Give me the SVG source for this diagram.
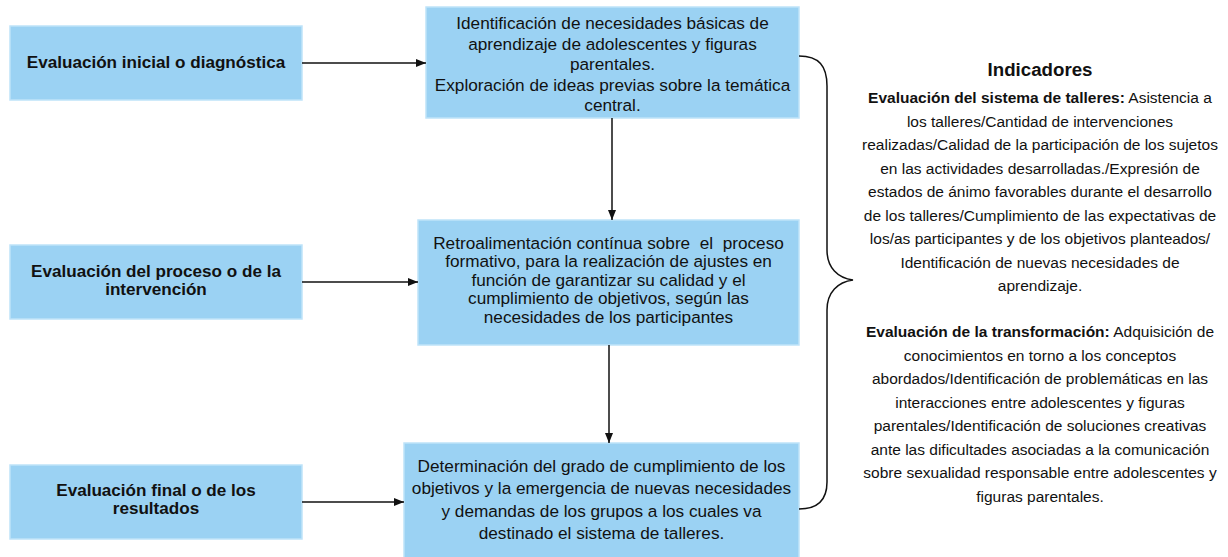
<svg xmlns="http://www.w3.org/2000/svg" width="1228" height="557" viewBox="0 0 1228 557">
<style>
.box{fill:#9bd2f3;stroke:#bfe3f9;stroke-width:1.5}
.lt{font-family:"Liberation Sans",Arial,sans-serif;font-size:17.1px;font-weight:bold;fill:#111;text-anchor:middle}
.ct{font-family:"Liberation Sans",Arial,sans-serif;font-size:17.2px;fill:#111;text-anchor:middle}
.rt{font-family:"Liberation Sans",Arial,sans-serif;font-size:15.5px;fill:#111;text-anchor:middle}
.con{fill:none;stroke:#111;stroke-width:1.5}
</style>
<defs>
<marker id="ah" markerWidth="10" markerHeight="8" refX="10" refY="4" orient="auto" markerUnits="userSpaceOnUse">
<path d="M0,0 L10,4 L0,8 Z" fill="#111"/>
</marker>
</defs>
<rect width="1228" height="557" fill="#fff"/>
<g id="n-inicial">
<rect class="box" x="10" y="26" width="292" height="74"/>
<text class="lt" x="156" y="68">Evaluación inicial o diagnóstica</text>
</g>
<g id="n-proceso">
<rect class="box" x="10" y="245" width="292" height="74"/>
<text class="lt" x="156" y="276.5">Evaluación del proceso o de la</text>
<text class="lt" x="156" y="294.5">intervención</text>
</g>
<g id="n-final">
<rect class="box" x="10" y="465" width="292" height="74"/>
<text class="lt" x="156" y="495.5">Evaluación final o de los</text>
<text class="lt" x="156" y="513.5">resultados</text>
</g>
<g id="n-identificacion">
<rect class="box" x="426" y="7" width="373" height="111"/>
<text class="ct" x="612.5" y="29">Identificación de necesidades básicas de</text>
<text class="ct" x="612.5" y="49.5">aprendizaje de adolescentes y figuras</text>
<text class="ct" x="612.5" y="70">parentales.</text>
<text class="ct" x="612.5" y="90.5">Exploración de ideas previas sobre la temática</text>
<text class="ct" x="612.5" y="111">central.</text>
</g>
<g id="n-retro">
<rect class="box" x="418" y="220" width="381" height="125"/>
<text class="ct" x="608.5" y="248.5" style="white-space:pre">Retroalimentación contínua sobre  el  proceso</text>
<text class="ct" x="608.5" y="267">formativo, para la realización de ajustes en</text>
<text class="ct" x="608.5" y="285.5">función de garantizar su calidad y el</text>
<text class="ct" x="608.5" y="304">cumplimiento de objetivos, según las</text>
<text class="ct" x="608.5" y="322.5">necesidades de los participantes</text>
</g>
<g id="n-determinacion">
<rect class="box" x="404" y="443" width="395" height="116"/>
<text class="ct" x="601.5" y="471.5">Determinación del grado de cumplimiento de los</text>
<text class="ct" x="601.5" y="494">objetivos y la emergencia de nuevas necesidades</text>
<text class="ct" x="601.5" y="516.5">y demandas de los grupos a los cuales va</text>
<text class="ct" x="601.5" y="539">destinado el sistema de talleres.</text>
</g>
<g id="connectors">
<line class="con" x1="302" y1="63" x2="426" y2="63" marker-end="url(#ah)"/>
<line class="con" x1="302" y1="282" x2="418" y2="282" marker-end="url(#ah)"/>
<line class="con" x1="302" y1="502" x2="404" y2="502" marker-end="url(#ah)"/>
<line class="con" x1="612" y1="118" x2="612" y2="220" marker-end="url(#ah)"/>
<line class="con" x1="609" y1="345" x2="609" y2="443" marker-end="url(#ah)"/>
<path class="con" d="M799,56 C819,56 827,66 827,86 L827,250 C827,268 838,278 853,280 C838,282 827,292 827,310 L827,482 C827,500 818,509 799,509"/>
</g>
<g id="n-indicadores">
<text class="rt" x="1040" y="76" style="font-size:18.7px;font-weight:bold">Indicadores</text>
<text class="rt" x="1040" y="103"><tspan font-weight="bold">Evaluación del sistema de talleres:</tspan> Asistencia a</text>
<text class="rt" x="1040" y="126.5">los talleres/Cantidad de intervenciones</text>
<text class="rt" x="1040" y="150">realizadas/Calidad de la participación de los sujetos</text>
<text class="rt" x="1040" y="173.5">en las actividades desarrolladas./Expresión de</text>
<text class="rt" x="1040" y="197">estados de ánimo favorables durante el desarrollo</text>
<text class="rt" x="1040" y="220.5">de los talleres/Cumplimiento de las expectativas de</text>
<text class="rt" x="1040" y="244">los/as participantes y de los objetivos planteados/</text>
<text class="rt" x="1040" y="267.5">Identificación de nuevas necesidades de</text>
<text class="rt" x="1040" y="291">aprendizaje.</text>
<text class="rt" x="1040" y="337"><tspan font-weight="bold">Evaluación de la transformación:</tspan> Adquisición de</text>
<text class="rt" x="1040" y="360.5">conocimientos en torno a los conceptos</text>
<text class="rt" x="1040" y="384">abordados/Identificación de problemáticas en las</text>
<text class="rt" x="1040" y="407.5">interacciones entre adolescentes y figuras</text>
<text class="rt" x="1040" y="431">parentales/Identificación de soluciones creativas</text>
<text class="rt" x="1040" y="454.5">ante las dificultades asociadas a la comunicación</text>
<text class="rt" x="1040" y="478">sobre sexualidad responsable entre adolescentes y</text>
<text class="rt" x="1040" y="501.5">figuras parentales.</text>
</g>
</svg>
